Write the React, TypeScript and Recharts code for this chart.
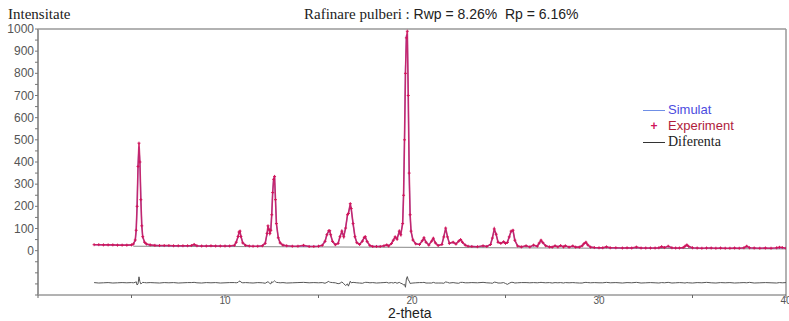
import { LineChart, Line, XAxis, YAxis, ReferenceLine } from 'recharts';

// 2-theta positions (deg) - denser around the peaks
const twoTheta = [
    3.0, 3.25, 3.5, 3.75, 4.0, 4.25, 4.5, 4.75, 5.0,
    5.1, 5.2, 5.25, 5.3, 5.35, 5.4, 5.45, 5.5, 5.55, 5.6, 5.7, 5.8,
    6.0, 6.25, 6.5, 6.75, 7.0, 7.25, 7.5, 7.75, 8.0, 8.2, 8.35, 8.5, 8.75, 9.0, 9.25, 9.5, 9.75, 10.0, 10.25, 10.5,
    10.6, 10.7, 10.75, 10.8, 10.85, 10.95, 11.1, 11.3, 11.5, 11.75, 12.0,
    12.15, 12.25, 12.3, 12.35, 12.4, 12.45, 12.5, 12.55, 12.6, 12.65, 12.7, 12.75, 12.85, 12.95, 13.1, 13.3, 13.6, 13.9, 14.2, 14.5, 14.75, 15.0,
    15.2, 15.35, 15.45, 15.55, 15.6, 15.65, 15.75, 15.9, 16.05, 16.15, 16.25, 16.35, 16.45, 16.55, 16.6, 16.7, 16.75, 16.85, 16.95, 17.05, 17.2, 17.35, 17.45, 17.5, 17.6, 17.75, 17.9, 18.1, 18.3,
    18.5, 18.65, 18.75, 18.9, 19.0, 19.1, 19.2, 19.32, 19.4, 19.5, 19.55, 19.6, 19.65, 19.7, 19.75, 19.8, 19.85, 19.9, 19.95, 20.05, 20.2, 20.4,
    20.55, 20.64, 20.75, 20.9, 21.05, 21.14, 21.25, 21.4, 21.6, 21.7, 21.8, 21.9, 22.0, 22.2, 22.35, 22.5, 22.6, 22.7, 22.85, 23.0, 23.2, 23.5,
    23.8, 24.0, 24.2, 24.3, 24.4, 24.5, 24.6, 24.75, 24.9, 25.0, 25.1, 25.2, 25.3, 25.4, 25.5, 25.65, 25.85,
    26.1, 26.3, 26.5, 26.7, 26.8, 26.9, 27.0, 27.15, 27.35, 27.5, 27.65, 27.8, 27.95, 28.1, 28.2, 28.4, 28.6, 28.75, 28.95, 29.1, 29.2, 29.3, 29.4, 29.55, 29.75, 30.0,
    30.2, 30.4, 30.6, 30.9, 31.25, 31.5, 31.75, 32.0, 32.25, 32.5, 32.75, 33.0, 33.2, 33.35, 33.5, 33.7, 33.9, 34.1, 34.3, 34.5, 34.6, 34.7, 34.8, 35.0, 35.25,
    35.5, 35.75, 36.0, 36.25, 36.5, 36.75, 37.0, 37.25, 37.5, 37.75, 37.9, 38.05, 38.3, 38.6, 38.9, 39.2, 39.5, 39.65, 39.8, 40.0,
];

const experiment = [
    27, 27, 26, 26, 26, 25, 25, 25, 26,
    30, 48, 92, 200, 380, 485, 400, 230, 112, 63, 38, 30,
    26, 24, 23, 23, 23, 22, 22, 22, 22, 23, 28, 22, 21, 21, 22, 21, 21, 21, 21, 24,
    38, 64, 84, 88, 64, 35, 24, 21, 20, 20, 22,
    33, 78, 112, 96, 78, 92, 162, 262, 322, 335, 230, 122, 58, 35, 25, 22, 20, 20, 24, 19, 19, 20,
    24, 42, 72, 90, 90, 72, 42, 27, 33, 63, 88, 63, 102, 162, 168, 212, 190, 122, 63, 36, 28, 43, 60, 63, 41, 23, 19, 19, 19,
    22, 26, 21, 32, 47, 62, 52, 88, 72, 122, 250, 500, 800, 960, 990, 700, 350, 162, 88, 48, 31, 28,
    45, 58, 38, 25, 43, 56, 35, 23, 28, 62, 102, 62, 33, 38, 30, 43, 50, 38, 25, 20, 19, 18,
    22, 19, 28, 57, 98, 74, 38, 33, 40, 33, 37, 62, 88, 92, 47, 21, 17,
    22, 17, 25, 20, 34, 47, 36, 22, 17, 16, 22, 17, 23, 17, 22, 16, 21, 16, 16, 22, 32, 38, 26, 16, 14, 13,
    13, 17, 13, 13, 12, 13, 12, 16, 12, 12, 12, 12, 13, 18, 14, 20, 13, 12, 12, 14, 20, 26, 19, 13, 12,
    11, 12, 12, 11, 12, 11, 11, 12, 11, 13, 20, 13, 12, 11, 12, 11, 13, 15, 14, 11,
];

const simulat = [
    27, 26, 26, 26, 25, 25, 25, 25, 25,
    29, 45, 88, 210, 390, 470, 395, 235, 114, 61, 37, 29,
    25, 24, 23, 23, 23, 22, 22, 22, 22, 23, 26, 22, 21, 21, 21, 21, 21, 21, 21, 23,
    39, 62, 82, 86, 66, 36, 24, 21, 20, 20, 22,
    35, 75, 107, 97, 80, 96, 166, 264, 326, 331, 226, 120, 57, 35, 25, 22, 20, 20, 22, 19, 19, 20,
    25, 43, 74, 88, 88, 70, 41, 27, 35, 64, 86, 64, 105, 158, 170, 208, 186, 120, 61, 36, 29, 45, 59, 61, 39, 23, 19, 19, 19,
    21, 25, 22, 33, 48, 60, 54, 86, 74, 126, 260, 510, 820, 970, 975, 690, 340, 157, 85, 47, 31, 28,
    44, 56, 39, 26, 44, 54, 36, 24, 29, 64, 98, 60, 34, 37, 31, 45, 48, 36, 25, 20, 19, 18,
    21, 19, 29, 59, 95, 72, 39, 34, 39, 34, 38, 64, 86, 90, 46, 21, 17,
    21, 17, 24, 20, 33, 45, 35, 22, 17, 17, 21, 18, 22, 18, 21, 16, 20, 16, 17, 23, 33, 36, 25, 16, 14, 13,
    13, 16, 13, 13, 12, 13, 12, 15, 12, 12, 12, 12, 13, 17, 14, 19, 13, 12, 12, 14, 19, 25, 18, 13, 12,
    11, 12, 12, 11, 12, 11, 11, 12, 11, 13, 19, 13, 12, 11, 12, 11, 12, 14, 13, 11,
];

// difference curve, already shifted down in the plot
const diferenta = [
    -144, -146, -145, -144, -146, -145, -144, -145, -144,
    -145, -143, -140, -155, -150, -118, -140, -150, -147, -143, -144, -145,
    -144, -145, -146, -144, -145, -144, -146, -145, -144, -144, -143, -145, -146, -144, -145, -144, -146, -145, -144, -144,
    -145, -143, -138, -137, -142, -145, -144, -145, -146, -144, -145,
    -147, -142, -140, -144, -148, -150, -140, -143, -140, -136, -140, -143, -144, -145, -144, -146, -145, -144, -143, -145, -144, -145,
    -144, -147, -143, -138, -143, -143, -144, -145, -149, -147, -141, -149, -157, -150, -160, -138, -145, -143, -144, -145, -146, -147, -144, -143, -143, -145, -144, -146, -145,
    -144, -143, -146, -144, -146, -143, -147, -143, -147, -150, -155, -152, -165, -128, -117, -132, -137, -148, -147, -146, -145, -144,
    -144, -143, -146, -146, -146, -143, -146, -146, -146, -147, -141, -143, -146, -144, -146, -147, -143, -143, -145, -145, -144, -145,
    -143, -145, -146, -147, -142, -143, -146, -146, -144, -148, -152, -147, -143, -143, -146, -145, -144,
    -144, -145, -144, -145, -144, -143, -144, -145, -144, -146, -144, -145, -144, -146, -144, -145, -144, -145, -146, -146, -144, -143, -144, -145, -144, -145,
    -145, -143, -145, -144, -146, -144, -145, -143, -146, -145, -144, -145, -146, -144, -145, -143, -146, -145, -144, -145, -146, -144, -145, -146, -144,
    -145, -143, -145, -146, -144, -145, -144, -146, -145, -144, -145, -143, -146, -145, -144, -145, -146, -144, -145, -144,
];

// fitted background
const backgroundTheta = [5.1, 12, 20, 30, 40];
const background = [20, 18, 15, 11, 8];

const xTicks = [0, 5, 10, 15, 20, 25, 30, 35, 40];
const yTicks = [-200, -150, -100, -50, 0, 50, 100, 150, 200, 250, 300, 350, 400, 450, 500, 550, 600, 650, 700, 750, 800, 850, 900, 950, 1000];

const data = twoTheta.map((t, i) => ({ t, obs: experiment[i], calc: simulat[i], diff: diferenta[i] }));
const bgData = backgroundTheta.map((t, i) => ({ t, bg: background[i] }));

const RED = '#d0145a';
const BLUE = '#6f8fe6';
const sans = '"Liberation Sans", Arial, sans-serif';
const serif = '"Liberation Serif", "Times New Roman", serif';

const PlusDot = (props: any) => {
    const { cx, cy, index } = props;
    if (cx == null || cy == null) return <g key={index} />;
    return <path key={index} d={`M${cx - 1.5},${cy}h3M${cx},${cy - 1.5}v3`} stroke={RED} strokeWidth={1} />;
};

const YTick = (props: any) => {
    const { x, y, payload } = props;
    const v = payload.value;
    if (v < 0 || v % 100 !== 0) return <g />;
    return (
        <text x={x} y={y} dy={4} textAnchor="end" fontSize={12} fontFamily={sans} fill="#555">
            {v}
        </text>
    );
};

const XTick = (props: any) => {
    const { x, y, payload } = props;
    const v = payload.value;
    if (v === 0 || v % 10 !== 0) return <g />;
    return (
        <text x={x} y={y} dy={6} textAnchor="middle" fontSize={10} fontFamily={sans} fill="#555">
            {v}
        </text>
    );
};

export default function App() {
    return (
        <div style={{ position: 'absolute', left: 0, top: 0, width: 789, height: 321, background: '#fff' }}>
            <LineChart width={789} height={321} data={data} margin={{ top: 29, right: 3, bottom: 0, left: 0 }}>
                <XAxis
                    dataKey="t"
                    type="number"
                    domain={[0, 40]}
                    ticks={xTicks}
                    interval={0}
                    height={26}
                    tickSize={3}
                    tickMargin={0}
                    tick={XTick}
                    stroke="#666"
                    allowDataOverflow
                />
                <YAxis
                    type="number"
                    domain={[-200, 1000]}
                    ticks={yTicks}
                    interval={0}
                    width={38}
                    tickSize={3}
                    tickMargin={1}
                    tick={YTick}
                    axisLine={{ stroke: '#999', strokeWidth: 2 }}
                    tickLine={{ stroke: '#777' }}
                    allowDataOverflow
                />
                <ReferenceLine y={1000} stroke="#999" strokeWidth={1.5} />
                <ReferenceLine x={40} stroke="#999" strokeWidth={1.5} />
                <Line data={bgData} dataKey="bg" stroke="#888" strokeWidth={1} dot={false} isAnimationActive={false} />
                <Line dataKey="calc" stroke={BLUE} strokeWidth={1.2} dot={false} isAnimationActive={false} />
                <Line dataKey="obs" stroke={RED} strokeWidth={1.6} strokeOpacity={0.85} dot={PlusDot} isAnimationActive={false} />
                <Line dataKey="diff" stroke="#555" strokeWidth={1} dot={false} isAnimationActive={false} />
            </LineChart>

            <div style={{ position: 'absolute', left: 8, top: 6, fontFamily: serif, fontSize: 15, color: '#222' }}>
                Intensitate
            </div>
            <div style={{ position: 'absolute', left: 304, top: 6, fontSize: 15, color: '#222', whiteSpace: 'pre' }}>
                <span style={{ fontFamily: serif }}>Rafinare pulberi : </span>
                <span style={{ fontFamily: sans, fontSize: 14 }}>Rwp = 8.26%  Rp = 6.16%</span>
            </div>
            <div style={{ position: 'absolute', left: 388, top: 305, fontFamily: sans, fontSize: 14, lineHeight: '16px', color: '#222' }}>
                2-theta
            </div>

            <div style={{ position: 'absolute', left: 643, top: 102, fontSize: 13, lineHeight: '16px' }}>
                <div style={{ display: 'flex', alignItems: 'center' }}>
                    <span style={{ width: 22, height: 1, background: BLUE, marginRight: 3 }} />
                    <span style={{ fontFamily: sans, color: '#4c4ce0' }}>Simulat</span>
                </div>
                <div style={{ display: 'flex', alignItems: 'center' }}>
                    <span style={{ width: 22, marginRight: 3, textAlign: 'center', color: RED, fontFamily: sans, fontSize: 12, fontWeight: 700 }}>+</span>
                    <span style={{ fontFamily: sans, color: '#b01c3c' }}>Experiment</span>
                </div>
                <div style={{ display: 'flex', alignItems: 'center' }}>
                    <span style={{ width: 22, height: 1, background: '#333', marginRight: 3 }} />
                    <span style={{ fontFamily: serif, color: '#222', fontSize: 14 }}>Diferenta</span>
                </div>
            </div>
        </div>
    );
}
